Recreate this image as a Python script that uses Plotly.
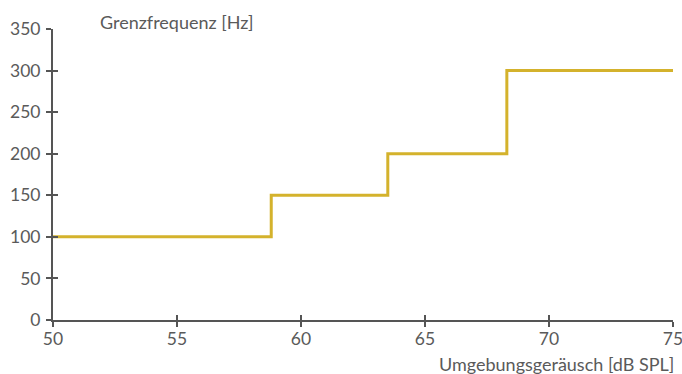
import plotly.graph_objects as go

# Data: step function (breakpoints in dB SPL, cutoff frequency in Hz)
noise_db = [50, 58.8, 58.8, 63.5, 63.5, 68.3, 68.3, 75]
cutoff_hz = [100, 100, 150, 150, 200, 200, 300, 300]
x_ticks = [50, 55, 60, 65, 70, 75]
y_ticks = [0, 50, 100, 150, 200, 250, 300, 350]

line_color = "#D4B22C"
axis_color = "#555555"
text_color = "#5a5a5a"
font_family = "Lato, 'Open Sans', sans-serif"

fig = go.Figure()
fig.add_trace(go.Scatter(x=noise_db, y=cutoff_hz, mode="lines",
                         line=dict(color=line_color, width=3),
                         hoverinfo="skip", showlegend=False))
# invisible trace on overlay axes (for inside ticks)
fig.add_trace(go.Scatter(x=[x_ticks[0]], y=[y_ticks[0]], xaxis="x2", yaxis="y2",
                         mode="markers", marker=dict(opacity=0),
                         hoverinfo="skip", showlegend=False))

tick_font = dict(family=font_family, size=17.5, color=text_color)
title_font = dict(family=font_family, size=18, color=text_color)

fig.update_layout(
    width=682, height=374,
    margin=dict(l=53, r=9, t=29, b=54, autoexpand=False),
    paper_bgcolor="white", plot_bgcolor="white",
    xaxis=dict(range=[50, 75], tickvals=x_ticks, showgrid=False, zeroline=False,
               showline=True, linecolor=axis_color, linewidth=2, automargin=False,
               ticks="outside", ticklen=5, tickwidth=2, tickcolor=axis_color,
               tickfont=tick_font, ticklabelstandoff=-3, ticklabeloverflow="allow"),
    yaxis=dict(range=[0, 350], tickvals=y_ticks, showgrid=False, zeroline=False,
               showline=True, linecolor=axis_color, linewidth=2, automargin=False,
               ticks="outside", ticklen=5, tickwidth=2, tickcolor=axis_color,
               tickfont=tick_font, ticklabelstandoff=2, ticklabeloverflow="allow"),
    xaxis2=dict(range=[50, 75], tickvals=x_ticks, overlaying="x", showgrid=False,
                zeroline=False, showline=False, ticks="inside", ticklen=5,
                tickwidth=2, tickcolor=axis_color, showticklabels=False, side="bottom"),
    yaxis2=dict(range=[0, 350], tickvals=y_ticks, overlaying="y", showgrid=False,
                zeroline=False, showline=False, ticks="inside", ticklen=5,
                tickwidth=2, tickcolor=axis_color, showticklabels=False, side="left"),
    annotations=[
        dict(text="Grenzfrequenz [Hz]", xref="paper", yref="paper",
             x=(98 - 53) / 620, y=1, xanchor="left", yanchor="bottom", yshift=-6,
             showarrow=False, font=title_font),
        dict(text="Umgebungsgeräusch [dB SPL]", xref="paper", yref="paper",
             x=1, y=0, xanchor="right", yanchor="top", yshift=-31, xshift=3,
             showarrow=False, font=title_font),
    ],
)

fig.write_html(
    "out.html",
    config={"displayModeBar": False, "staticPlot": True},
    post_script="document.body.style.margin='0';document.body.style.overflow='hidden';",
)
